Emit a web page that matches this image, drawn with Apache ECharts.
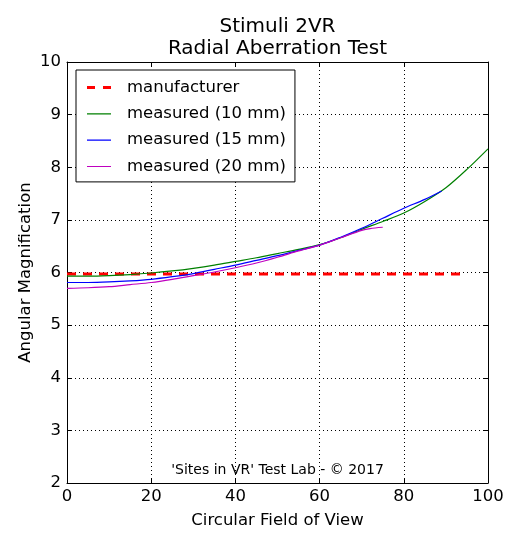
<!DOCTYPE html>
<html><head><meta charset="utf-8">
<script src="https://cdn.jsdelivr.net/npm/echarts@6/dist/echarts.min.js"></script>
<style>html,body{margin:0;padding:0;background:#fff}#c{width:520px;height:549px}</style>
</head><body><div id="c"></div>
<script>
const manufacturerX = [0, 93.5];
const manufacturerY = [5.97, 5.97];
const m10X = [0,5,10,15,20,25,30,35,40,45,50,55,60,65,70,75,80,85,90,95,100];
const m10Y = [5.93,5.93,5.94,5.96,5.99,6.03,6.08,6.14,6.21,6.28,6.36,6.44,6.53,6.66,6.82,6.97,7.13,7.35,7.61,7.96,8.35];
const m15X = [0,5,10,15,20,25,30,35,40,45,50,55,60,65,70,75,80,85,89];
const m15Y = [5.81,5.81,5.82,5.84,5.87,5.92,5.98,6.06,6.14,6.23,6.32,6.42,6.52,6.67,6.84,7.03,7.22,7.39,7.55];
const m20X = [0,5,10,15,20,25,30,35,40,45,50,55,60,65,70,72,75];
const m20Y = [5.70,5.71,5.73,5.77,5.81,5.87,5.94,6.01,6.09,6.18,6.29,6.41,6.52,6.66,6.80,6.835,6.86];
const legendNames = ['manufacturer','measured (10 mm)','measured (15 mm)','measured (20 mm)'];
const titleLines = ['Stimuli 2VR','Radial Aberration Test'];
const zip = (a,b) => a.map((v,i)=>[v,b[i]]);
const F = 'DejaVu Sans';
const dashIcon = 'path://M0,0h0.01v0.01h-0.01zM46,0h0.01v0.01h-0.01zM11,0h8v3h-8zM27,0h8v3h-8z';
const lineIcon = 'path://M0,0h0.01v0.01h-0.01zM46,0h0.01v0.01h-0.01zM0,2.99h0.01v0.01h-0.01zM11,1h24v1.2h-24z';
const chart = echarts.init(document.getElementById('c'));
const axisCommon = {
  axisLine:{show:true,onZero:false,lineStyle:{color:'#000',width:1}},
  axisTick:{show:true,inside:true,length:5,lineStyle:{color:'#000'}},
};
chart.setOption({
  animation:false,
  backgroundColor:'#fff',
  grid:{left:67,right:32,top:62,bottom:66,containLabel:false},
  legend:{orient:'vertical',left:76,top:70,padding:[9,9,7,0],itemGap:9.3,itemWidth:46,itemHeight:3,
    symbolKeepAspect:true,
    backgroundColor:'#fff',borderColor:'#000',borderWidth:1,borderRadius:0,
    itemStyle:{borderWidth:0},
    textStyle:{fontFamily:F,fontSize:16.5,color:'#000'},
    data:[{name:legendNames[0],icon:dashIcon},{name:legendNames[1],icon:lineIcon},
          {name:legendNames[2],icon:lineIcon},{name:legendNames[3],icon:lineIcon}]},
  xAxis:[{type:'value',min:0,max:100,interval:20,position:'bottom',
    name:'Circular Field of View',nameLocation:'middle',nameGap:29.5,nameMoveOverlap:false,
    nameTextStyle:{fontFamily:F,fontSize:16.5,color:'#000'},
    axisLabel:{fontFamily:F,fontSize:16.5,color:'#000',margin:5},
    splitLine:{show:true,lineStyle:{color:'#000',type:[1,3],width:1}},
    ...axisCommon},
   {type:'value',min:0,max:100,interval:20,position:'top',axisLabel:{show:false},splitLine:{show:false},...axisCommon}],
  yAxis:[{type:'value',min:2,max:10,interval:1,position:'left',
    name:'Angular Magnification',nameLocation:'middle',nameGap:33,nameMoveOverlap:false,
    nameTextStyle:{fontFamily:F,fontSize:16.5,color:'#000'},
    axisLabel:{fontFamily:F,fontSize:16.5,color:'#000',margin:6},
    splitLine:{show:true,lineStyle:{color:'#000',type:[1,3],width:1}},
    ...axisCommon},
   {type:'value',min:2,max:10,interval:1,position:'right',axisLabel:{show:false},splitLine:{show:false},...axisCommon}],
  graphic:[
    {type:'text',x:277.5,y:27,style:{text:titleLines[0],textAlign:'center',textVerticalAlign:'middle',fontFamily:F,fontSize:20,fill:'#000'}},
    {type:'text',x:277.5,y:49,style:{text:titleLines[1],textAlign:'center',textVerticalAlign:'middle',fontFamily:F,fontSize:20,fill:'#000'}},
    {type:'text',x:277.5,y:463,style:{text:"'Sites in VR' Test Lab - © 2017",textAlign:'center',fontFamily:F,fontSize:14,fill:'#000'}}],
  series:[
    {name:legendNames[0],type:'line',data:zip(manufacturerX,manufacturerY),symbol:'none',
      lineStyle:{color:'#ff0000',width:3,type:[9,7]},itemStyle:{color:'#ff0000'},z:3},
    {name:legendNames[1],type:'line',data:zip(m10X,m10Y),symbol:'none',smooth:0.3,
      lineStyle:{color:'#008000',width:1.2},itemStyle:{color:'#008000'}},
    {name:legendNames[2],type:'line',data:zip(m15X,m15Y),symbol:'none',smooth:0.3,
      lineStyle:{color:'#0000ff',width:1.2},itemStyle:{color:'#0000ff'}},
    {name:legendNames[3],type:'line',data:zip(m20X,m20Y),symbol:'none',smooth:0.3,
      lineStyle:{color:'#bf00bf',width:1.2},itemStyle:{color:'#bf00bf'}}
  ]
});
</script></body></html>
